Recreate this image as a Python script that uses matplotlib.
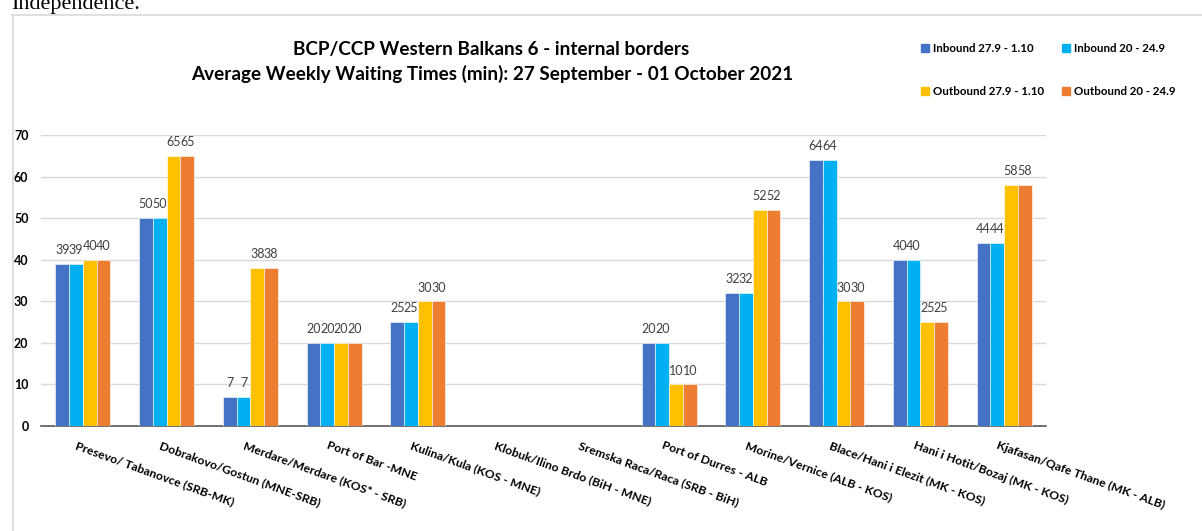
import numpy as np
import matplotlib.pyplot as plt
import matplotlib.transforms as mtransforms
from matplotlib.lines import Line2D
from matplotlib.patches import Patch

plt.rcParams['font.family'] = ['Lato', 'DejaVu Sans']

# data
crossings = ["Presevo/ Tabanovce (SRB-MK)", "Dobrakovo/Gostun (MNE-SRB)",
             "Merdare/Merdare (KOS* - SRB)", "Port of Bar -MNE",
             "Kulina/Kula (KOS - MNE)", "Klobuk/Ilino Brdo (BiH - MNE)",
             "Sremska Raca/Raca (SRB - BiH)", "Port of Durres - ALB",
             "Morine/Vernice (ALB - KOS)", "Blace/Hani i Elezit (MK - KOS)",
             "Hani i Hotit/Bozaj (MK - KOS)", "Kjafasan/Qafe Thane (MK - ALB)"]
nan = np.nan
inbound_now = [39, 50, 7, 20, 25, nan, nan, 20, 32, 64, 40, 44]
inbound_prev = [39, 50, 7, 20, 25, nan, nan, 20, 32, 64, 40, 44]
outbound_now = [40, 65, 38, 20, 30, nan, nan, 10, 52, 30, 25, 58]
outbound_prev = [40, 65, 38, 20, 30, nan, nan, 10, 52, 30, 25, 58]
series_names = ["Inbound 27.9 - 1.10", "Inbound 20 - 24.9",
                "Outbound 27.9 - 1.10", "Outbound 20 - 24.9"]
colors = ["#4472C4", "#00B0F0", "#FFC000", "#ED7D31"]

fig = plt.figure(figsize=(12.02, 5.31), dpi=100)
ax = fig.add_axes([41/1202, 1-426/531, (1046-41)/1202, (426-135)/531])

x = np.arange(len(crossings))
w = 0.164
all_series = [inbound_now, inbound_prev, outbound_now, outbound_prev]
for k, (vals, c) in enumerate(zip(all_series, colors)):
    v = np.array(vals, dtype=float)
    pos = x + (k - 1.5) * w
    ax.bar(pos, np.nan_to_num(v), width=w, color=c, edgecolor='white',
           linewidth=0.4, zorder=3)
    for px, pv in zip(pos, v):
        if not np.isnan(pv):
            ax.annotate(f"{pv:.0f}", (px, pv), xytext=(0, 7),
                        textcoords='offset points', ha='center', va='baseline',
                        fontsize=9, color='#404040')

ax.set_xlim(-0.5, len(crossings) - 0.5)
ax.set_ylim(0, 70)
ax.set_yticks(range(0, 71, 10))
ax.yaxis.grid(True, color='#D9D9D9', linewidth=1.0, zorder=0)
ax.set_axisbelow(True)
for s in ['top', 'right', 'left']:
    ax.spines[s].set_visible(False)
ax.spines['bottom'].set_color('#595959')
ax.spines['bottom'].set_linewidth(1.2)
ax.tick_params(axis='y', length=0, pad=9, labelsize=9)
for t in ax.get_yticklabels():
    t.set_fontweight('bold')

ax.set_xticks(x)
ax.set_xticklabels(crossings, rotation=-20, ha='left', va='top',
                   rotation_mode='anchor', fontsize=8.7, fontweight='bold')
ax.tick_params(axis='x', length=0, pad=10)
offset = mtransforms.ScaledTranslation(-5/100, 0, fig.dpi_scale_trans)
for t in ax.get_xticklabels():
    t.set_transform(t.get_transform() + offset)

fig.text(491/1202, 1-50/531, "BCP/CCP Western Balkans 6 - internal borders",
         ha='center', va='center', fontsize=13.6, fontweight='bold')
fig.text(492/1202, 1-74/531, "Average Weekly Waiting Times (min): 27 September - 01 October 2021",
         ha='center', va='center', fontsize=13.6, fontweight='bold')

handles = [Patch(color=colors[i]) for i in [0, 2, 1, 3]]
labels = [series_names[i] for i in [0, 2, 1, 3]]
fig.legend(handles, labels, loc='upper left', bbox_to_anchor=(921/1202, 1-43/531),
           ncol=2, frameon=False, prop={'size': 8.3, 'weight': 'bold'},
           handlelength=0.7, handleheight=0.7, handletextpad=0.3,
           labelspacing=2.8, columnspacing=1.6, borderpad=0, borderaxespad=0)

# surrounding frame and cut-off text from the page
fig.add_artist(Line2D([12/1202, 1], [1-14.5/531, 1-14.5/531], color='#D9D9D9', lw=1.2))
fig.add_artist(Line2D([12.5/1202, 12.5/1202], [0, 1-14.5/531], color='#D9D9D9', lw=1.2))
fig.text(11/1202, 1-9/531, "Independence.", ha='left', va='baseline',
         fontsize=16, family='Liberation Serif')

fig.savefig("out.png", dpi=100)
